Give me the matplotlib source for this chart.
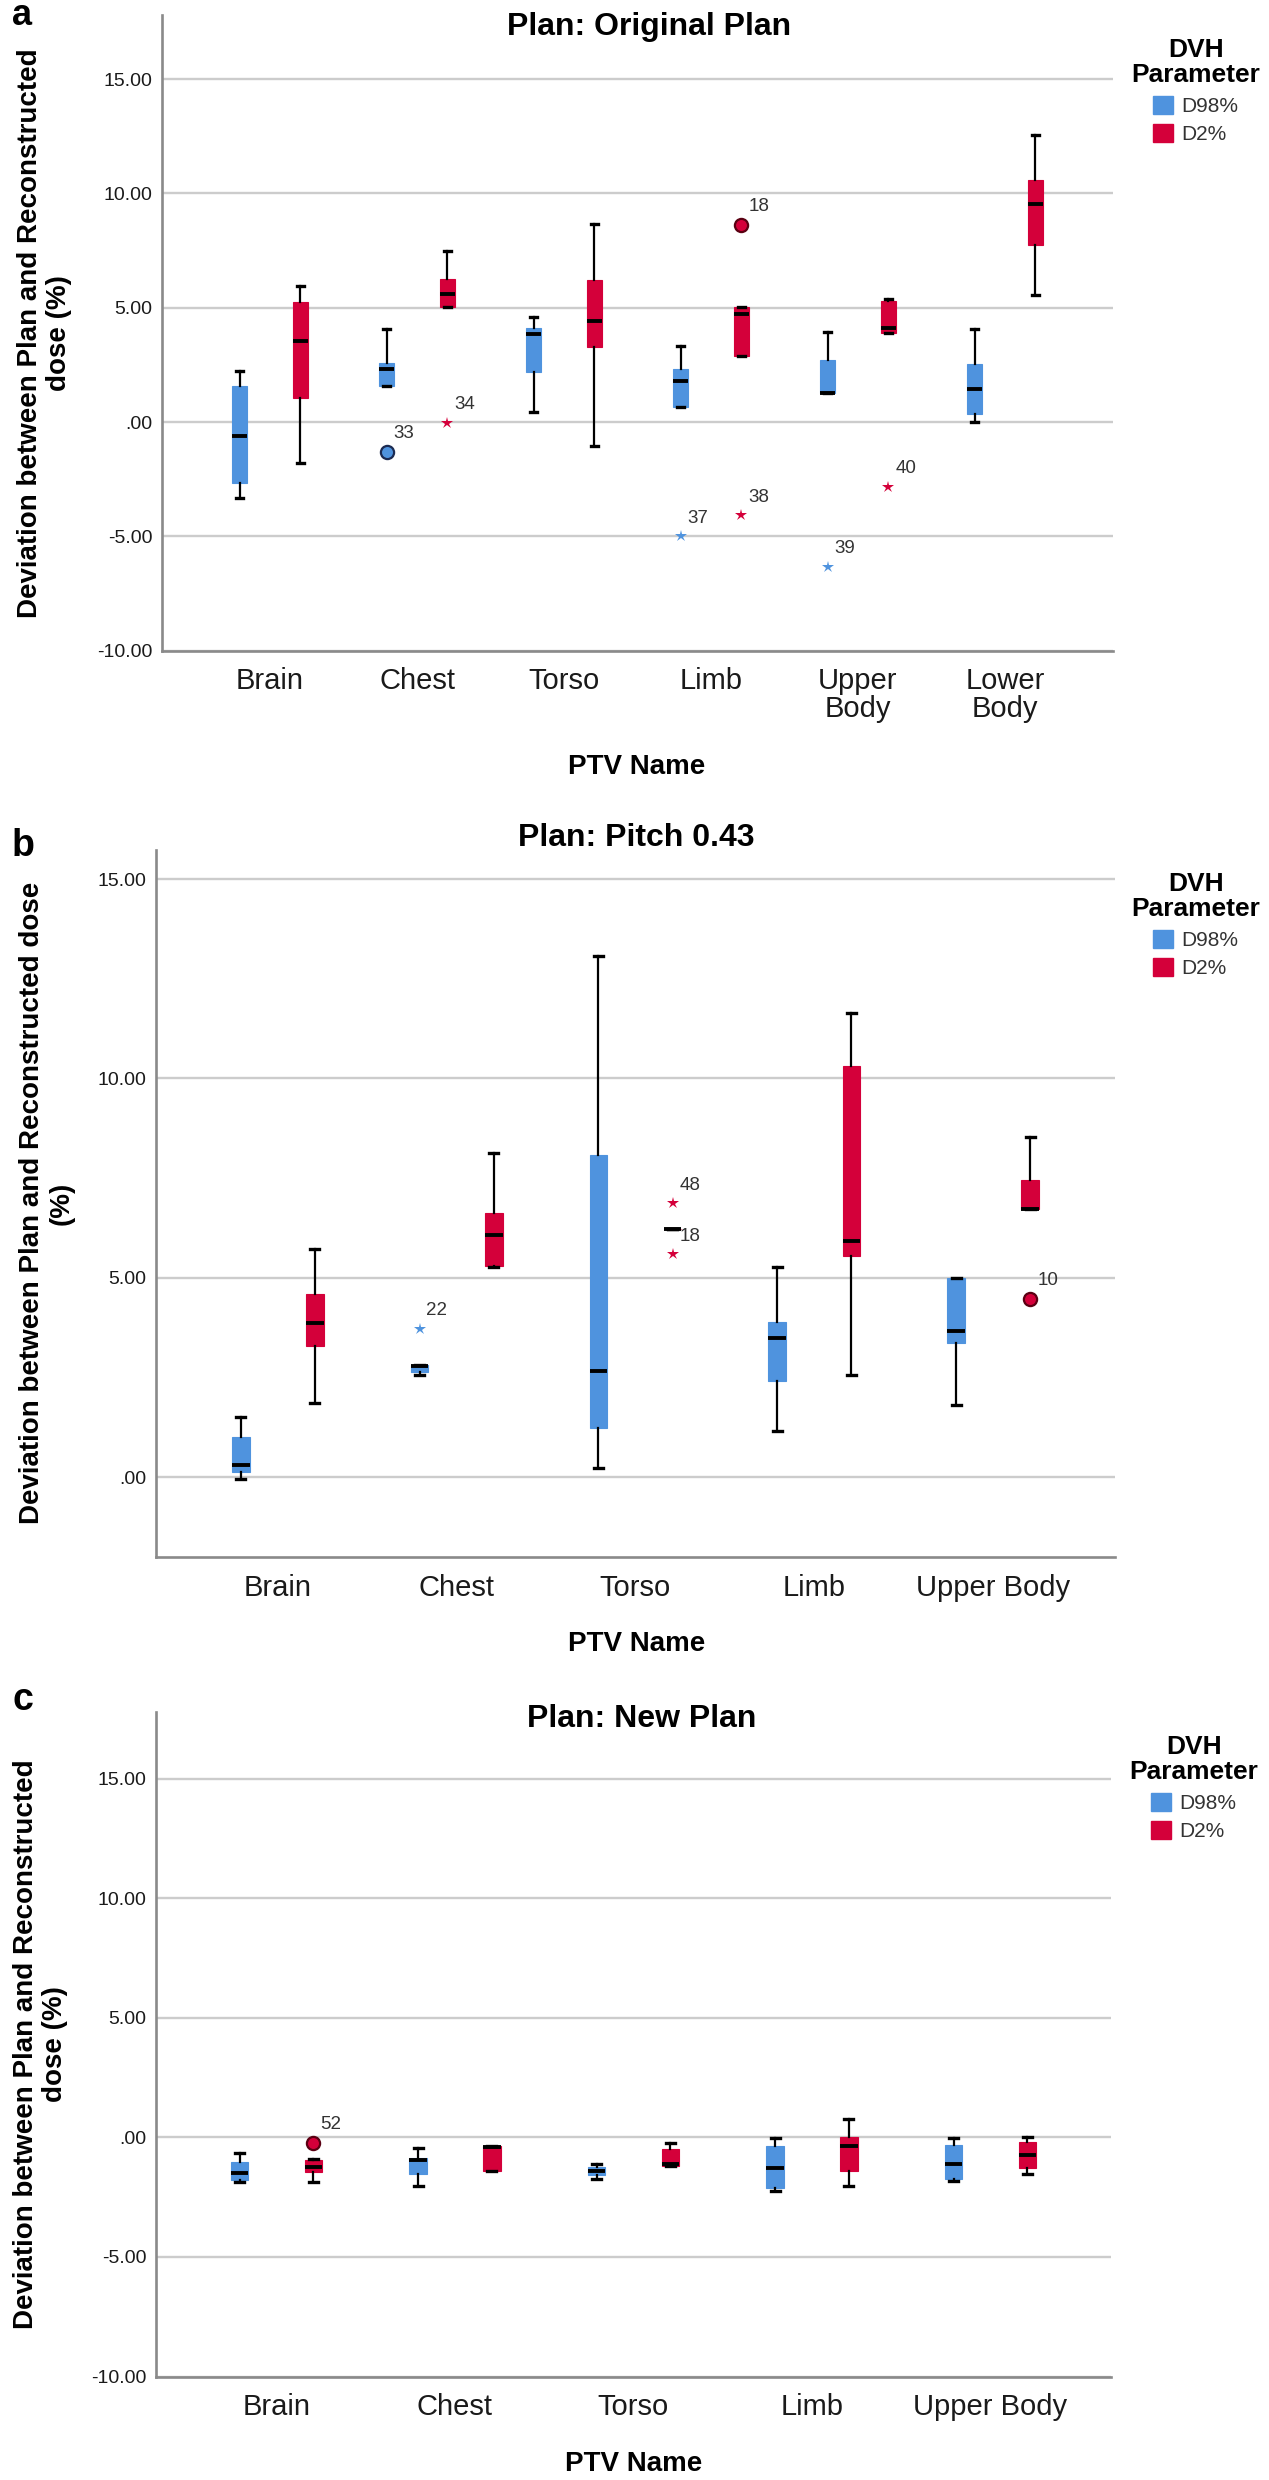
import numpy as np
import matplotlib
matplotlib.use("Agg")
import matplotlib.pyplot as plt
from matplotlib.patches import Patch
from matplotlib.ticker import FuncFormatter

plt.rcParams['font.family'] = ['Liberation Sans', 'DejaVu Sans']

# 1. data
# each box: (whisker low, Q1, median, Q3, whisker high)
# outliers: (category index, series, value, case label, 'o' = outlier / '*' = extreme)

# (a) Plan: Original Plan
a_names = ['Brain', 'Chest', 'Torso', 'Limb', 'Upper\nBody', 'Lower\nBody']
a_d98 = [(-3.33, -2.67, -0.59, 1.56, 2.24),
         (1.56, 1.56, 2.33, 2.58, 4.07),
         (0.46, 2.20, 3.83, 4.10, 4.61),
         (0.64, 0.64, 1.81, 2.32, 3.31),
         (1.27, 1.27, 1.27, 2.73, 3.94),
         (0.02, 0.33, 1.43, 2.52, 4.07)]
a_d2 = [(-1.77, 1.05, 3.53, 5.23, 5.96),
        (5.03, 5.03, 5.59, 6.24, 7.46),
        (-1.04, 3.28, 4.43, 6.22, 8.67),
        (2.87, 2.87, 4.72, 5.01, 5.01),
        (3.89, 3.89, 4.11, 5.28, 5.39),
        (5.57, 7.72, 9.52, 10.59, 12.54)]
a_out = [(1, 'D98%', -1.29, '33', 'o'),
         (1, 'D2%', -0.04, '34', '*'),
         (3, 'D98%', -5.00, '37', '*'),
         (3, 'D2%', 8.63, '18', 'o'),
         (3, 'D2%', -4.07, '38', '*'),
         (4, 'D98%', -6.33, '39', '*'),
         (4, 'D2%', -2.83, '40', '*')]

# (b) Plan: Pitch 0.43
b_names = ['Brain', 'Chest', 'Torso', 'Limb', 'Upper Body']
b_d98 = [(-0.04, 0.14, 0.31, 1.01, 1.51),
         (2.56, 2.63, 2.80, 2.82, 2.82),
         (0.24, 1.23, 2.66, 8.08, 13.06),
         (1.15, 2.42, 3.48, 3.89, 5.27),
         (1.81, 3.37, 3.67, 4.99, 4.99)]
b_d2 = [(1.85, 3.30, 3.87, 4.60, 5.73),
        (5.27, 5.30, 6.08, 6.62, 8.13),
        (6.22, 6.22, 6.22, 6.22, 6.22),
        (2.56, 5.54, 5.93, 10.31, 11.65),
        (6.72, 6.72, 6.72, 7.45, 8.54)]
b_out = [(1, 'D98%', 3.73, '22', '*'),
         (2, 'D2%', 6.87, '48', '*'),
         (2, 'D2%', 5.59, '18', '*'),
         (4, 'D2%', 4.48, '10', 'o')]

# (c) Plan: New Plan
c_names = ['Brain', 'Chest', 'Torso', 'Limb', 'Upper Body']
c_d98 = [(-1.88, -1.79, -1.48, -1.02, -0.64),
         (-2.04, -1.52, -0.95, -0.84, -0.43),
         (-1.72, -1.55, -1.40, -1.24, -1.09),
         (-2.25, -2.12, -1.27, -0.35, -0.04),
         (-1.83, -1.75, -1.11, -0.33, -0.04)]
c_d2 = [(-1.86, -1.44, -1.23, -0.95, -0.92),
        (-1.40, -1.40, -0.41, -0.37, -0.37),
        (-1.18, -1.18, -1.13, -0.48, -0.22),
        (-2.03, -1.42, -0.37, 0.00, 0.79),
        (-1.53, -1.29, -0.74, -0.20, 0.04)]
c_out = [(0, 'D2%', -0.22, '52', 'o')]

# 2. style
W, H = 1269, 2480
BLUE = '#4F93DE'
RED = '#D4003A'
colors = {'D98%': BLUE, 'D2%': RED}
edges = {'D98%': '#1c2b52', 'D2%': '#5a0012'}
shifts = {'D98%': -0.207, 'D2%': 0.207}

fig = plt.figure(figsize=(W / 100, H / 100), dpi=100)


def px_axes(left, top, right, bottom):
    return fig.add_axes([left / W, 1 - bottom / H, (right - left) / W, (bottom - top) / H])


def px_text(x, y, s, **kw):
    return fig.text(x / W, 1 - y / H, s, **kw)


def tick_fmt(v, _):
    if abs(v) < 1e-9:
        return '.00'
    return f'{v:.2f}'


def draw_panel(ax, names, d98, d2, outliers, ylim, yticks, xpad):
    pos = np.arange(len(names))
    for key, data in [('D98%', d98), ('D2%', d2)]:
        stats = [dict(whislo=s[0], q1=s[1], med=s[2], q3=s[3], whishi=s[4], fliers=[]) for s in data]
        ax.bxp(stats, positions=pos + shifts[key], widths=0.1, capwidths=0.05,
               patch_artist=True, showfliers=False, manage_ticks=False,
               boxprops=dict(facecolor=colors[key], edgecolor=colors[key], linewidth=0.8),
               medianprops=dict(color='black', linewidth=2.8, solid_capstyle='butt'),
               whiskerprops=dict(color='black', linewidth=1.6),
               capprops=dict(color='black', linewidth=2.4))

    for i, key, val, lab, kind in outliers:
        x = i + shifts[key]
        if kind == 'o':
            ax.plot(x, val, 'o', ms=9.5, mfc=colors[key], mec=edges[key], mew=1.6, zorder=4)
        else:
            ax.plot(x, val, '*', ms=9, color=colors[key], mew=0, zorder=4)
        ax.annotate(lab, (x, val), xytext=(5, 13), textcoords='offset points',
                    fontsize=13.5, color='#333333', ha='left', va='center')

    ax.set_xlim(-xpad, len(names) - 1 + xpad)
    ax.set_ylim(*ylim)
    ax.set_yticks(yticks)
    ax.yaxis.set_major_formatter(FuncFormatter(tick_fmt))
    ax.set_xticks(pos)
    ax.set_xticklabels(names, linespacing=1.0)
    ax.tick_params(axis='y', length=0, pad=7, labelsize=14, labelcolor='#1a1a1a')
    ax.tick_params(axis='x', length=0, pad=12, labelsize=21, labelcolor='#1a1a1a')

    ax.yaxis.grid(True, color='#cccccc', linewidth=1.7)
    ax.set_axisbelow(True)
    for side in ['top', 'right']:
        ax.spines[side].set_visible(False)
    for side in ['left', 'bottom']:
        ax.spines[side].set_color('#8a8a8a')
        ax.spines[side].set_linewidth(1.9)


def add_legend(ax, x, y):
    handles = [Patch(facecolor=BLUE, edgecolor=BLUE, label='D98%'),
               Patch(facecolor=RED, edgecolor=RED, label='D2%')]
    leg = ax.legend(handles=handles, title='DVH\nParameter', loc='upper center',
                    bbox_to_anchor=(x / W, 1 - y / H), bbox_transform=fig.transFigure,
                    frameon=False, fontsize=15, borderpad=0, handlelength=0.95,
                    handleheight=0.95, handletextpad=0.4, labelspacing=0.4,
                    title_fontproperties={'weight': 'bold', 'size': 19})
    leg.get_title().set_multialignment('center')
    leg.get_title().set_linespacing(1.05)
    for t in leg.get_texts():
        t.set_color('#333333')


ylab = 'Deviation between Plan and Reconstructed\ndose (%)'
ylab_b = 'Deviation between Plan and Reconstructed dose\n(%)'
lab_kw = dict(fontsize=20, fontweight='bold', rotation=90, ha='center', va='center',
              multialignment='center', linespacing=1.15)

# 3. panel a
ax_a = px_axes(162, 15, 1113, 650.7)
draw_panel(ax_a, a_names, a_d98, a_d2, a_out, (-10, 17.8), [-10, -5, 0, 5, 10, 15], 0.735)
add_legend(ax_a, 1196, 28)
px_text(649, 35, 'Plan: Original Plan', fontsize=23, fontweight='bold', ha='center', va='baseline')
px_text(637, 774, 'PTV Name', fontsize=20, fontweight='bold', ha='center', va='baseline')
px_text(45, 333, ylab, **lab_kw)
px_text(12, 25, 'a', fontsize=26, fontweight='bold', ha='left', va='baseline')

# 4. panel b
ax_b = px_axes(156, 850, 1115, 1557)
draw_panel(ax_b, b_names, b_d98, b_d2, b_out, (-2, 15.73), [0, 5, 10, 15], 0.68)
add_legend(ax_b, 1196, 862)
px_text(636, 846, 'Plan: Pitch 0.43', fontsize=23, fontweight='bold', ha='center', va='baseline')
px_text(637, 1651, 'PTV Name', fontsize=20, fontweight='bold', ha='center', va='baseline')
px_text(47, 1203, ylab_b, **lab_kw)
px_text(12, 856, 'b', fontsize=27, fontweight='bold', ha='left', va='baseline')

# 5. panel c
ax_c = px_axes(156, 1712, 1111, 2376.5)
draw_panel(ax_c, c_names, c_d98, c_d2, c_out, (-10, 17.8), [-10, -5, 0, 5, 10, 15], 0.675)
add_legend(ax_c, 1194, 1725)
px_text(642, 1727, 'Plan: New Plan', fontsize=23, fontweight='bold', ha='center', va='baseline')
px_text(634, 2471, 'PTV Name', fontsize=20, fontweight='bold', ha='center', va='baseline')
px_text(41, 2044, ylab, **lab_kw)
px_text(12, 1710, 'c', fontsize=27, fontweight='bold', ha='left', va='baseline')

fig.savefig('out.png', dpi=100)
